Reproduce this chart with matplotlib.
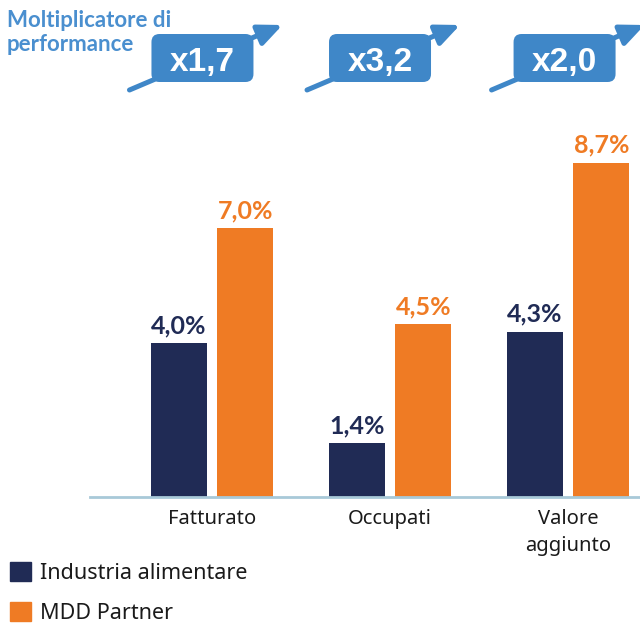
import matplotlib
matplotlib.use("Agg")
import matplotlib.pyplot as plt
import numpy as np
from matplotlib.patches import FancyBboxPatch, FancyArrowPatch, Patch
from matplotlib.transforms import IdentityTransform

# dati
categories = ["Fatturato", "Occupati", "Valore\naggiunto"]
industria = [4.0, 1.4, 4.3]
mdd = [7.0, 4.5, 8.7]
moltiplicatori = ["x1,7", "x3,2", "x2,0"]
series_names = ["Industria alimentare", "MDD Partner"]

NAVY = "#202b55"
ORANGE = "#ef7b24"
BLUE = "#3f87c8"
TITLE_BLUE = "#4a8fcf"
AXIS = "#a8c9d8"

W, H = 640, 625
fig = plt.figure(figsize=(W / 100, H / 100), dpi=100)
ax = fig.add_axes([90 / W, 1 - 497 / H, 550 / W, 384 / H])

x = np.arange(len(categories))
bw = 0.315
off = 0.187
b1 = ax.bar(x - off, industria, bw, color=NAVY)
b2 = ax.bar(x + off, mdd, bw, color=ORANGE)
ax.set_xlim(-0.685, 2.404)
ax.set_ylim(0, 10)

def fmt(v):
    return f"{v:.1f}%".replace(".", ",")

ax.bar_label(b1, labels=[fmt(v) for v in industria], padding=4.5, color=NAVY,
             fontsize=18, fontweight="bold", family="Lato")
ax.bar_label(b2, labels=[fmt(v) for v in mdd], padding=4.5, color=ORANGE,
             fontsize=18, fontweight="bold", family="Lato")

for s in ["top", "left", "right"]:
    ax.spines[s].set_visible(False)
ax.spines["bottom"].set_color(AXIS)
ax.spines["bottom"].set_linewidth(2)
ax.set_yticks([])
ax.set_xticks([])

# etichette categorie
for xi, cat in zip(x, categories):
    ax.annotate(cat, xy=(xi, 0), xycoords=("data", "axes fraction"), xytext=(0, -8.5),
                textcoords="offset points", ha="center", va="top", fontsize=14.5,
                family="Noto Sans", color="#1a1a1a", linespacing=1.5, annotation_clip=False)

# legenda
handles = [Patch(color=NAVY), Patch(color=ORANGE)]
fig.legend(handles, series_names, loc="upper left", bbox_to_anchor=(10 / W, 1 - 562 / H),
           frameon=False, borderpad=0, borderaxespad=0, handlelength=0.975, handleheight=0.975,
           handletextpad=0.42, labelspacing=0.85, labelcolor="#1a1a1a",
           prop={"family": "Noto Sans", "size": 15.5})

# titolo moltiplicatore
fig.text(7 / W, 1 - 10 / H, "Moltiplicatore di\nperformance", ha="left", va="top",
         color=TITLE_BLUE, fontsize=16, fontweight="bold", family="Lato", linespacing=1.15)

# box con frecce (spostamento orizzontale del box rispetto al gruppo)
box_dx = [-9.5, -10, -3.5]
fig.canvas.draw()
for i, m in enumerate(moltiplicatori):
    cx = ax.transData.transform((x[i], 0))[0] + box_dx[i]
    arr = FancyArrowPatch((cx - 73, H - 90), (cx + 80, H - 25),
                          arrowstyle="-|>,head_length=0.72,head_width=0.32",
                          mutation_scale=20, lw=3.6, color=BLUE, shrinkA=0, shrinkB=0,
                          transform=IdentityTransform(), zorder=1)
    fig.add_artist(arr)
    r = 8
    box = FancyBboxPatch((cx - 51 + r, H - 82 + r), 102 - 2 * r, 48 - 2 * r,
                         boxstyle=f"round,pad={r}", fc=BLUE, ec="none",
                         transform=IdentityTransform(), zorder=2)
    fig.add_artist(box)
    fig.text(cx, H - 71, m, transform=IdentityTransform(), ha="center", va="baseline",
             color="white", fontsize=24, fontweight="bold", family="Liberation Sans", zorder=3)

fig.savefig("out.png", dpi=100)
